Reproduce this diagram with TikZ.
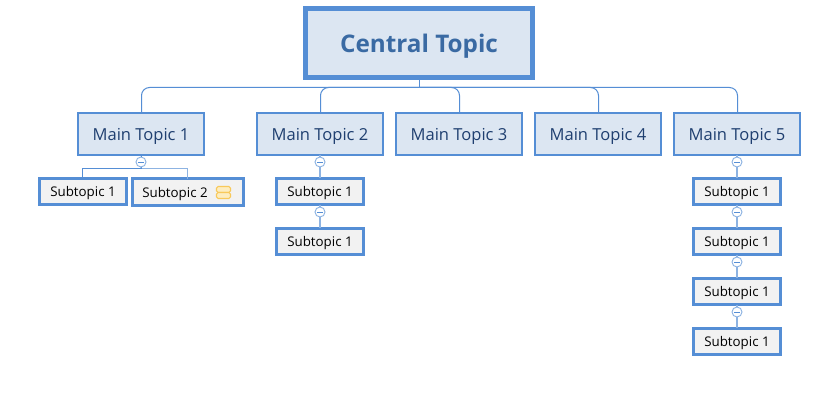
\documentclass[tikz,border=0pt]{standalone}
\usepackage{fontspec}
\setmainfont{Open Sans}
\definecolor{bord}{HTML}{558ED5}
\definecolor{mainfill}{HTML}{DCE6F2}
\definecolor{subfill}{HTML}{F2F2F2}
\definecolor{ctext}{HTML}{3A6AA3}
\definecolor{mtext}{HTML}{1F3F70}
\definecolor{iconc}{HTML}{F8C95A}
\definecolor{iconf}{HTML}{FDEDC0}
\definecolor{lightb}{HTML}{8DB3E2}
\tikzset{
 x=0.75pt,y=-0.75pt,
 central/.style={draw=bord,fill=mainfill,line width=3.5pt,inner sep=0pt,outer sep=0pt,minimum width=170.6pt,minimum height=52pt,text=ctext,font=\fontsize{18.2}{22}\selectfont\bfseries,text height=15pt,text depth=0.9pt},
 maintopic/.style={draw=bord,fill=mainfill,line width=1.7pt,inner sep=0pt,outer sep=0pt,minimum width=94.3pt,minimum height=31pt,text=mtext,font=\fontsize{12.4}{15}\selectfont,text height=11pt,text depth=0.8pt},
 subtopic/.style={draw=bord,fill=subfill,line width=2.4pt,inner sep=0pt,outer sep=0pt,minimum width=65.1pt,minimum height=19.6pt,text=black,font=\fontsize{10}{12}\selectfont,text height=9pt,text depth=0.8pt},
 subtext/.style={inner sep=0pt,outer sep=0pt,text=black,font=\fontsize{10}{12}\selectfont,text height=9pt,text depth=0.8pt},
 conn/.style={draw=bord,line width=0.75pt,rounded corners=6pt},
 subconn/.style={draw=lightb,line width=1.1pt},
 toggle/.style={circle,draw=lightb,fill=white,line width=0.7pt,inner sep=0pt,outer sep=0pt,minimum size=7.5pt,
   path picture={\draw[bord,line width=0.6pt] ([xshift=-2.2pt]path picture bounding box.center) -- ([xshift=2.2pt]path picture bounding box.center);}},
 px/.style={xshift=0.375pt},
}
\begin{document}
\begin{tikzpicture}
\useasboundingbox (0,0) rectangle (828,403);
\fill[white] (0,0) rectangle (828,403);
\coordinate (bus) at (419.5,87.5);
\node[central] (c) at (419,43) {Central Topic};
\node[maintopic] (m1) at (141,134) {Main Topic 1};
\node[maintopic] (m2) at (320,134) {Main Topic 2};
\node[maintopic] (m3) at (459,134) {Main Topic 3};
\node[maintopic] (m4) at (598,134) {Main Topic 4};
\node[maintopic] (m5) at (737,134) {Main Topic 5};
\node[subtopic] (s11) at (83,191.5) {Subtopic 1};
\node[subtopic,minimum width=83.1pt,minimum height=20.1pt] (s12) at (188,192) {};
\node[subtext] (s12t) at (175,192.5) {Subtopic 2};
\node[subtopic] (s21) at (320,191.5) {Subtopic 1};
\node[subtopic] (s22) at (320,241.5) {Subtopic 1};
\node[subtopic] (s51) at (737,191.5) {Subtopic 1};
\node[subtopic] (s52) at (737,241.5) {Subtopic 1};
\node[subtopic] (s53) at (737,291.5) {Subtopic 1};
\node[subtopic] (s54) at (737,341.5) {Subtopic 1};
% bus
\draw[conn] ([px]m1.north) |- (bus);
\draw[conn] ([px]m2.north) |- (bus);
\draw[conn] ([px]m3.north) |- (bus);
\draw[conn] ([px]m4.north) |- (bus);
\draw[conn] ([px]m5.north) |- (bus);
\draw[conn] (c.south -| bus) -- (bus);
% toggles
\node[toggle] (t1) at (141,162) {};
\node[toggle] (t2) at (320,162) {};
\node[toggle] (t21) at (320,212) {};
\node[toggle] (t5) at (737,162) {};
\node[toggle] (t51) at (737,212) {};
\node[toggle] (t52) at (737,262) {};
\node[toggle] (t53) at (737,312) {};
\coordinate (j1) at (141.5,168.5);
\draw[bord,line width=0.75pt] (m1.south) -- (t1.north);
\draw[bord,line width=0.75pt] (t1.south) -- (j1);
\draw[bord,line width=0.75pt] ([xshift=-0.375pt]s11.north) |- (j1);
\draw[lightb,line width=0.75pt] ([xshift=-0.375pt]s12.north) |- (j1);
\draw[subconn] (m2.south) -- (t2.north);
\draw[subconn] (t2.south) -- (s21.north);
\draw[subconn] (s21.south) -- (t21.north);
\draw[subconn] (t21.south) -- (s22.north);
\draw[subconn] (m5.south) -- (t5.north);
\draw[subconn] (t5.south) -- (s51.north);
\draw[subconn] (s51.south) -- (t51.north);
\draw[subconn] (t51.south) -- (s52.north);
\draw[subconn] (s52.south) -- (t52.north);
\draw[subconn] (t52.south) -- (s53.north);
\draw[subconn] (s53.south) -- (t53.north);
\draw[subconn] (t53.south) -- (s54.north);
% note icon
\draw[iconc,fill=iconf,line width=0.8pt,rounded corners=1.2pt] (216.5,186.5) rectangle (230.5,192.5);
\draw[iconc,fill=iconf,line width=0.8pt,rounded corners=1.2pt] (216.5,192.5) rectangle (230.5,198.5);
\end{tikzpicture}
\end{document}
